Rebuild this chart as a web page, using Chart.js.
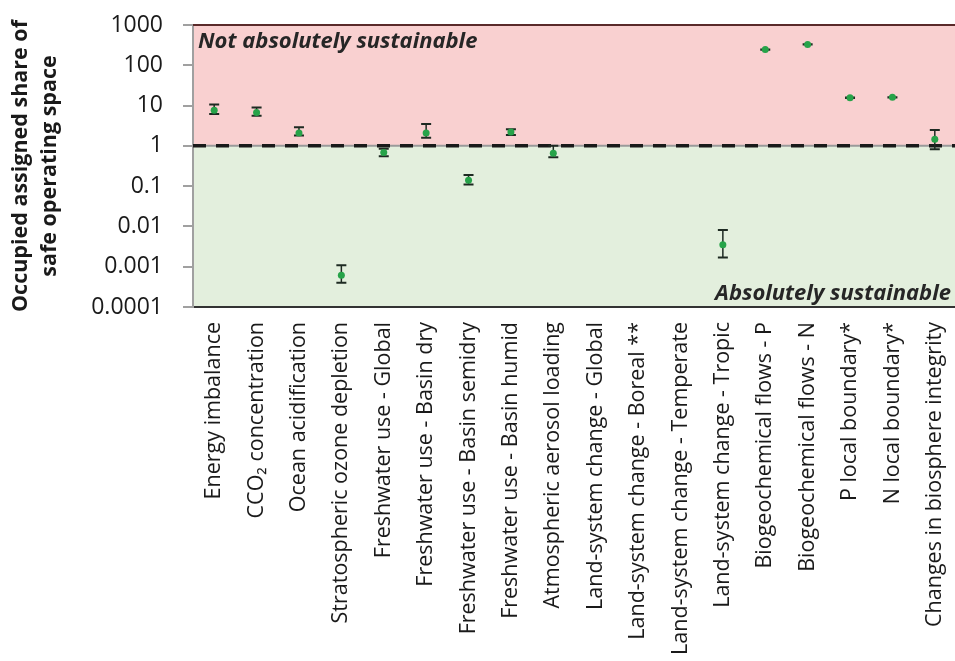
<!DOCTYPE html>
<html>
<head>
<meta charset="utf-8">
<script src="https://cdn.jsdelivr.net/npm/chart.js@4/dist/chart.umd.min.js"></script>
<style>
html, body { margin: 0; padding: 0; overflow: hidden; background: #fff; }
</style>
</head>
<body>
<canvas id="chart" width="960" height="661"></canvas>
<script>
const categories = [
    'Energy imbalance', 'CCO\u2082 concentration', 'Ocean acidification',
    'Stratospheric ozone depletion', 'Freshwater use - Global', 'Freshwater use - Basin dry',
    'Freshwater use - Basin semidry', 'Freshwater use - Basin humid', 'Atmospheric aerosol loading',
    'Land-system change - Global', 'Land-system change - Boreal **', 'Land-system change - Temperate',
    'Land-system change - Tropic', 'Biogeochemical flows - P', 'Biogeochemical flows - N',
    'P local boundary*', 'N local boundary*', 'Changes in biosphere integrity'
];
const values  = [7.6, 6.7, 2.1, 0.00061, 0.68, 2.1, 0.14, 2.2, 0.66, null, null, null, 0.0035, 245, 330, 15.7, 16, 1.45];
const errLow  = [6.2, 5.6, 1.8, 0.0004, 0.55, 1.6, 0.11, 1.85, 0.52, null, null, null, 0.0017, 243, 327, 15.5, 15.8, 0.82];
const errHigh = [10.7, 9.0, 2.9, 0.00108, 0.85, 3.5, 0.19, 2.6, 1.0, null, null, null, 0.0081, 247, 333, 15.9, 16.2, 2.47];
const yTicks = [0.0001, 0.001, 0.01, 0.1, 1, 10, 100, 1000];

const FONT = "'Open Sans', sans-serif";

// red / green zones split at 1, plus the zone labels
const zones = {
    id: 'zones',
    beforeDraw(chart) {
        const { ctx, chartArea: a, scales: { y } } = chart;
        const y1 = y.getPixelForValue(1);
        ctx.save();
        ctx.fillStyle = '#f9d0d0';
        ctx.fillRect(a.left, a.top, a.right - a.left, y1 - a.top);
        ctx.fillStyle = '#e3efdd';
        ctx.fillRect(a.left, y1, a.right - a.left, a.bottom - y1);
        ctx.restore();
    },
    beforeDatasetsDraw(chart) {
        const { ctx, chartArea: a, scales: { y } } = chart;
        const y1 = y.getPixelForValue(1);
        ctx.save();
        // top border
        ctx.strokeStyle = '#5a2a2a';
        ctx.lineWidth = 2;
        ctx.beginPath();
        ctx.moveTo(a.left, a.top);
        ctx.lineTo(a.right, a.top);
        ctx.stroke();
        // boundary line at 1
        ctx.strokeStyle = '#9a9a9a';
        ctx.lineWidth = 2;
        ctx.beginPath();
        ctx.moveTo(a.left, y1);
        ctx.lineTo(a.right, y1);
        ctx.stroke();
        ctx.strokeStyle = '#1a1a1a';
        ctx.lineWidth = 3.5;
        ctx.setLineDash([13, 10]);
        ctx.beginPath();
        ctx.moveTo(a.left, y1);
        ctx.lineTo(a.right, y1);
        ctx.stroke();
        ctx.setLineDash([]);
        // zone labels
        ctx.fillStyle = '#262626';
        ctx.font = 'italic bold 22px ' + FONT;
        ctx.textBaseline = 'alphabetic';
        ctx.textAlign = 'left';
        ctx.fillText('Not absolutely sustainable', a.left + 5, a.top + 23);
        ctx.textAlign = 'right';
        ctx.fillText('Absolutely sustainable', 951, a.bottom - 7);
        ctx.restore();
    }
};

// vertical error bars with caps
const errorBars = {
    id: 'errorBars',
    beforeDatasetsDraw(chart) {
        const { ctx, scales: { x, y } } = chart;
        ctx.save();
        ctx.strokeStyle = '#1e2a22';
        values.forEach((v, i) => {
            if (v === null) return;
            const px = x.getPixelForValue(i);
            const top = y.getPixelForValue(errHigh[i]);
            const bot = y.getPixelForValue(errLow[i]);
            ctx.lineWidth = 1.5;
            ctx.beginPath();
            ctx.moveTo(px, top);
            ctx.lineTo(px, bot);
            ctx.stroke();
            ctx.lineWidth = 2;
            ctx.beginPath();
            ctx.moveTo(px - 5, top);
            ctx.lineTo(px + 5, top);
            ctx.moveTo(px - 5, bot);
            ctx.lineTo(px + 5, bot);
            ctx.stroke();
        });
        ctx.restore();
    }
};

new Chart(document.getElementById('chart'), {
    type: 'line',
    data: {
        labels: categories,
        datasets: [{
            data: values,
            showLine: false,
            pointRadius: 3.5,
            pointBackgroundColor: '#27a349',
            pointBorderWidth: 0,
            spanGaps: false
        }]
    },
    options: {
        responsive: false,
        animation: false,
        layout: { padding: { top: 25, right: 0, left: 0, bottom: 0 } },
        plugins: {
            legend: { display: false },
            tooltip: { enabled: false }
        },
        scales: {
            x: {
                offset: true,
                grid: { display: false, drawTicks: false },
                border: { color: '#333', width: 2 },
                ticks: {
                    autoSkip: false,
                    minRotation: 90,
                    maxRotation: 90,
                    padding: 15,
                    color: '#1a1a1a',
                    font: { family: FONT, size: 21.5 }
                },
                afterFit(scale) {
                    scale.height = 354;
                    scale.paddingLeft = 0;
                    scale.paddingRight = 0;
                }
            },
            y: {
                type: 'logarithmic',
                min: 0.0001,
                max: 1000,
                afterBuildTicks(scale) {
                    scale.ticks = yTicks.map(v => ({ value: v }));
                },
                grid: { drawOnChartArea: false, color: '#a0a0a0', tickLength: 10, lineWidth: 2 },
                border: { color: '#a0a0a0', width: 2 },
                ticks: {
                    padding: 20,
                    color: '#1a1a1a',
                    font: { family: FONT, size: 23 },
                    callback: v => String(v)
                },
                title: {
                    display: true,
                    text: ['Occupied assigned share of', 'safe operating space'],
                    color: '#1a1a1a',
                    padding: { top: 6, bottom: 0 },
                    font: { family: FONT, size: 21.5, weight: 'bold', lineHeight: 1.36 }
                },
                afterFit(scale) {
                    scale.width = 193;
                    scale.paddingTop = 0;
                    scale.paddingBottom = 0;
                }
            }
        }
    },
    plugins: [zones, errorBars]
});
</script>
</body>
</html>
